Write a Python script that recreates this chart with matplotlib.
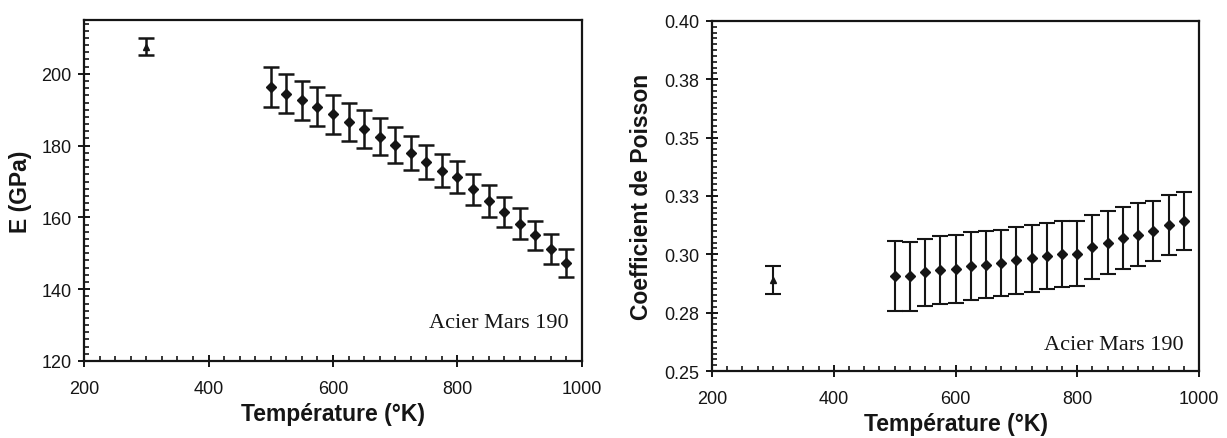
import matplotlib
matplotlib.use("Agg")
import matplotlib.pyplot as plt
from matplotlib.ticker import MultipleLocator, FixedLocator, FixedFormatter

# ---------------- data ----------------
temp_ref = [300]
temp = [500, 525, 550, 575, 600, 625, 650, 675, 700, 725,
        750, 775, 800, 825, 850, 875, 900, 925, 950, 975]

E_ref = [207.6]
E_ref_err = [2.3]
E_vals = [196.3, 194.5, 192.6, 190.8, 188.7, 186.6, 184.7, 182.5, 180.1, 177.9,
          175.5, 173.0, 171.3, 167.8, 164.6, 161.5, 158.3, 155.0, 151.2, 147.3]
E_err = [5.6, 5.5, 5.5, 5.4, 5.4, 5.3, 5.3, 5.2, 5.0, 4.8,
         4.7, 4.6, 4.4, 4.3, 4.4, 4.3, 4.2, 4.1, 4.1, 3.9]

nu_ref = [0.2888]
nu_ref_err = [0.006]
nu_vals = [0.2906, 0.2906, 0.2923, 0.2932, 0.2938, 0.2949, 0.2956, 0.2963, 0.2974, 0.2983,
           0.2993, 0.3002, 0.3003, 0.3031, 0.3050, 0.3068, 0.3084, 0.3101, 0.3124, 0.3141]
nu_err = [0.0149, 0.0147, 0.0144, 0.0146, 0.0146, 0.0146, 0.0143, 0.0142, 0.0143, 0.0144,
          0.0141, 0.0140, 0.0140, 0.0138, 0.0136, 0.0133, 0.0134, 0.0128, 0.0129, 0.0124]

E_ticks = [120, 140, 160, 180, 200]
nu_ticks = [0.25, 0.275, 0.30, 0.325, 0.35, 0.375, 0.40]
nu_tick_labels = ['0.25', '0.28', '0.30', '0.33', '0.35', '0.38', '0.40']
x_ticks = [200, 400, 600, 800, 1000]

xlabel = "Température (°K)"
ylabel_left = "E (GPa)"
ylabel_right = "Coefficient de Poisson"
note = "Acier Mars 190"

# ---------------- figure ----------------
plt.rcParams['font.family'] = ['Liberation Sans', 'DejaVu Sans']
fig = plt.figure(figsize=(12.27, 4.39), dpi=100)
fig.patch.set_facecolor('white')

axL = fig.add_axes([0.0685, 0.1754, 0.4058, 0.7768])
axR = fig.add_axes([0.5803, 0.1526, 0.3969, 0.7974])

ink = '#151515'


def style(ax):
    for s in ax.spines.values():
        s.set_linewidth(1.6)
        s.set_color(ink)
    ax.tick_params(which='major', direction='inout', length=8, width=1.4,
                   labelsize=13, colors=ink)
    ax.tick_params(which='minor', direction='in', length=3.5, width=1.2, colors=ink)
    ax.tick_params(top=False, right=False, which='both')
    ax.tick_params(axis='x', which='major', pad=10)
    ax.tick_params(axis='y', which='major', pad=5)
    ax.xaxis.set_major_locator(FixedLocator(x_ticks))
    ax.xaxis.set_minor_locator(MultipleLocator(25))
    ax.set_xlim(200, 1000)
    ax.set_xlabel(xlabel, fontsize=16.5, fontweight='bold', labelpad=3, color=ink)


# Left: Young's modulus
axL.errorbar(temp, E_vals, yerr=E_err, fmt='D', color=ink, ms=4.6,
             ecolor=ink, elinewidth=1.8, capsize=5.5, capthick=1.8)
axL.errorbar(temp_ref, E_ref, yerr=E_ref_err, fmt='^', color=ink, ms=5,
             ecolor=ink, elinewidth=1.8, capsize=5.5, capthick=1.8)
axL.set_ylim(120, 215)
axL.yaxis.set_major_locator(FixedLocator(E_ticks))
axL.yaxis.set_minor_locator(MultipleLocator(2))
style(axL)
axL.set_ylabel(ylabel_left, fontsize=16.5, fontweight='bold', labelpad=7, color=ink)
axL.text(0.974, 0.114, note, transform=axL.transAxes, ha='right', va='center',
         fontsize=16, family='Liberation Serif', color=ink)

# Right: Poisson ratio
axR.errorbar(temp, nu_vals, yerr=nu_err, fmt='D', color=ink, ms=4.6,
             ecolor=ink, elinewidth=1.5, capsize=5.5, capthick=1.5)
axR.errorbar(temp_ref, nu_ref, yerr=nu_ref_err, fmt='^', color=ink, ms=4.5,
             ecolor=ink, elinewidth=1.5, capsize=5.5, capthick=1.5)
axR.set_ylim(0.25, 0.40)
axR.yaxis.set_major_locator(FixedLocator(nu_ticks))
axR.yaxis.set_major_formatter(FixedFormatter(nu_tick_labels))
axR.yaxis.set_minor_locator(MultipleLocator(0.0025))
style(axR)
axR.set_ylabel(ylabel_right, fontsize=16.5, fontweight='bold', labelpad=8, color=ink)
axR.text(0.969, 0.077, note, transform=axR.transAxes, ha='right', va='center',
         fontsize=16, family='Liberation Serif', color=ink)

fig.savefig('out.png', dpi=100, facecolor='white')
